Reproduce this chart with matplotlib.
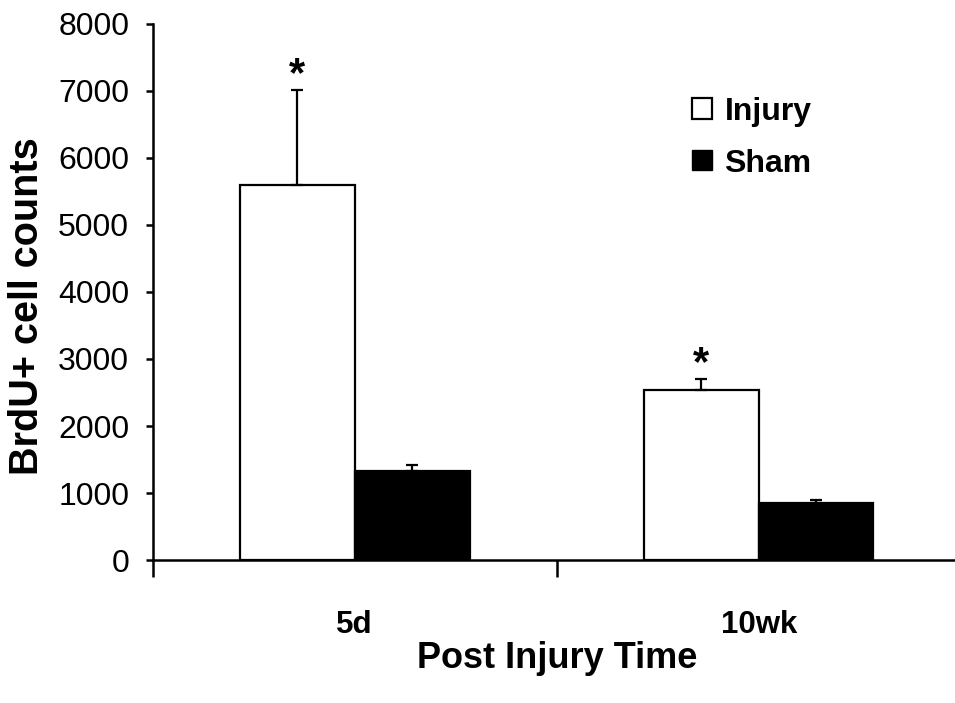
import matplotlib
matplotlib.use("Agg")
import matplotlib.pyplot as plt
from matplotlib.patches import Patch
import numpy as np

plt.rcParams['font.family'] = ['Liberation Sans', 'DejaVu Sans']

# --- dane ---
categories = ['5d', '10wk']
injury = [5590, 2530]
injury_err = [1420, 165]
sham = [1330, 850]
sham_err = [90, 50]
stars = [True, True]  # gwiazdki nad słupkami Injury

x = np.arange(len(categories))
width = 0.284

fig = plt.figure(figsize=(9.55, 7.03), dpi=100)
ax = fig.add_axes([0.160, 0.2034, 0.846, 0.7625])

err_kw = dict(ecolor='black', elinewidth=1.6, capsize=4.5, capthick=1.6)

ax.bar(x - width / 2, injury, width, color='white', edgecolor='black', linewidth=1.6,
       yerr=[np.zeros(len(injury)), injury_err], error_kw=err_kw, label='Injury', zorder=2)
ax.bar(x + width / 2, sham, width, color='black', edgecolor='black', linewidth=1.6,
       yerr=[np.zeros(len(sham)), sham_err], error_kw=err_kw, label='Sham', zorder=2)

# gwiazdki istotności
for xi, val, err, s in zip(x, injury, injury_err, stars):
    if s:
        ax.text(xi - width / 2, val + err - 70, '*', ha='center', va='bottom',
                fontsize=30, fontweight='bold')

ax.set_xlim(-0.5, 1.5)
ax.set_ylim(0, 8000)
ax.set_yticks(np.arange(0, 8001, 1000))
ax.tick_params(axis='y', direction='out', length=5, width=1.8, labelsize=23, pad=12)

ax.set_xticks(x)
ax.set_xticklabels(categories, fontsize=22.5, fontweight='bold')
ax.tick_params(axis='x', which='major', length=0, pad=36)
ax.set_xticks([-0.5, 0.5, 1.5], minor=True)
ax.tick_params(axis='x', which='minor', direction='out', length=12, width=1.8)

for side in ['top', 'right']:
    ax.spines[side].set_visible(False)
for side in ['left', 'bottom']:
    ax.spines[side].set_linewidth(1.8)

handles = [Patch(facecolor='white', edgecolor='black', linewidth=1.6, label='Injury'),
           Patch(facecolor='black', edgecolor='black', label='Sham')]
leg = ax.legend(handles=handles, loc='upper left', bbox_to_anchor=(0.668, 0.864),
                frameon=False, borderpad=0, borderaxespad=0, handlelength=0.6,
                handleheight=0.6, handletextpad=0.4, labelspacing=0.68,
                prop={'size': 23, 'weight': 'bold'})

fig.text(27 / 955, 1 - 306 / 703, 'BrdU+ cell counts', rotation=90, ha='center', va='center',
         fontsize=28.5, fontweight='bold')
fig.text(557 / 955, 1 - 658 / 703, 'Post Injury Time', ha='center', va='center',
         fontsize=26, fontweight='bold')

fig.savefig('out.png', dpi=100)
